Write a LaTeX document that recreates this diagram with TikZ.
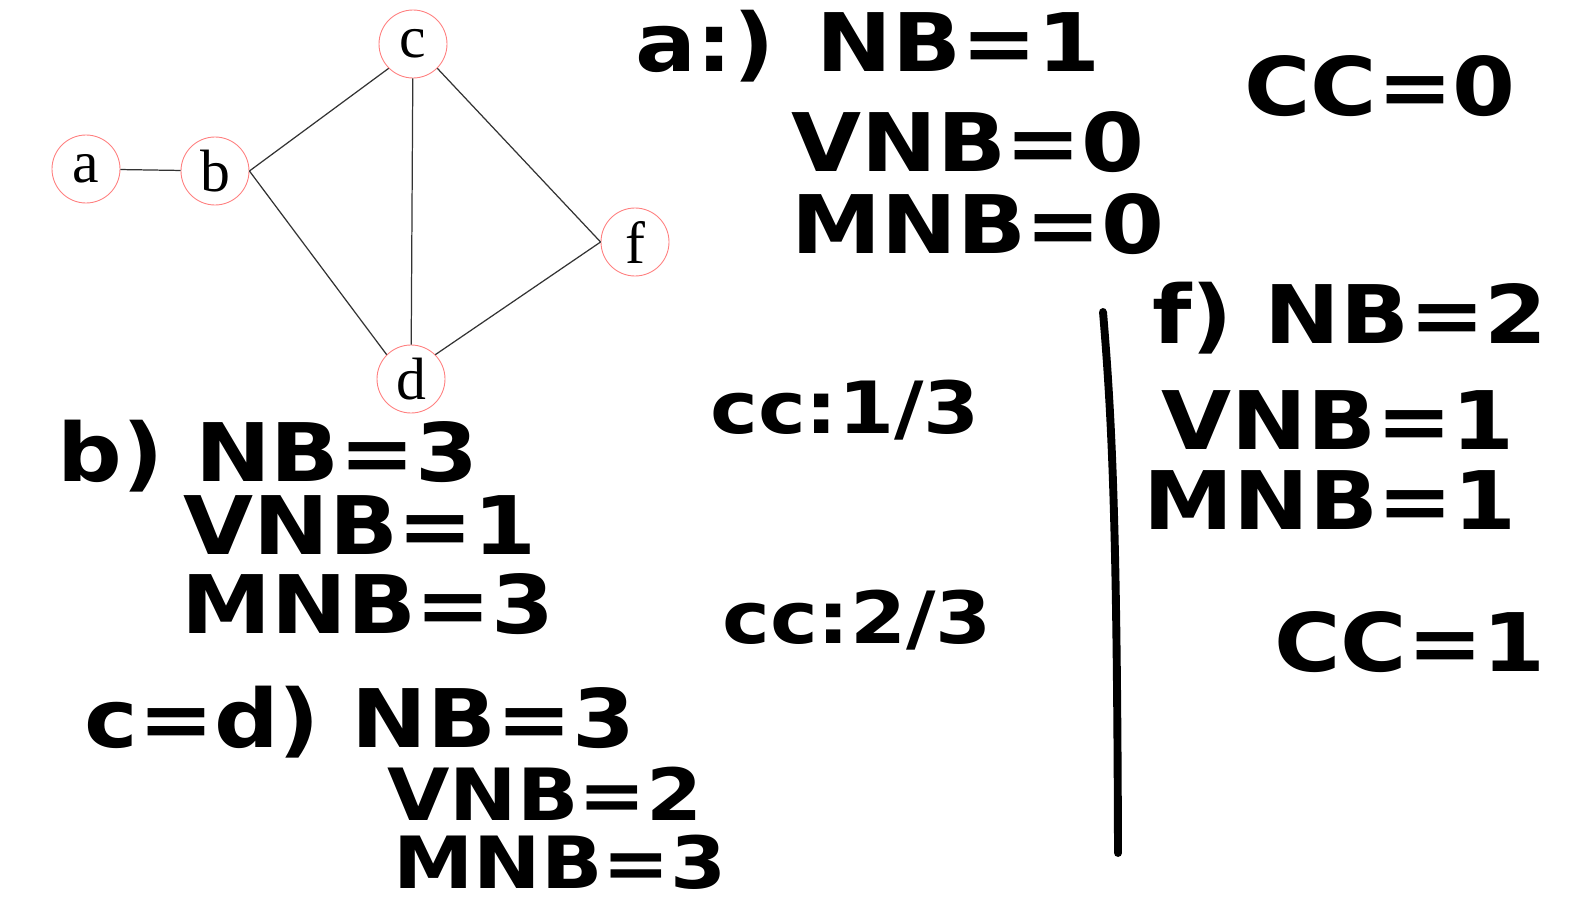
\documentclass[tikz,border=0pt]{standalone}
\usepackage{fontspec}
\setmainfont{Liberation Serif}
\newfontfamily\handfont{DejaVu Sans}
\usepackage{tikz}

\newcommand{\hw}[1]{\scalebox{1.12}[1]{#1}}

\tikzset{
  vertex/.style={circle, draw=red!50, line width=0.5pt, minimum size=1.36cm, inner sep=0pt,
    font=\fontsize{34}{34}\selectfont},
  edge/.style={draw=black!80, line width=0.7pt},
  hand/.style={font=\handfont\bfseries\fontsize{46}{46}\selectfont, inner sep=0pt},
  handsmall/.style={font=\handfont\bfseries\fontsize{41}{41}\selectfont, inner sep=0pt}
}

\begin{document}
\begin{tikzpicture}[x=0.02cm, y=-0.02cm]
        \useasboundingbox (0,0) rectangle (1581,912);
        % graph
        \node[vertex] (a) at (86, 169) {a};
        \node[vertex] (b) at (215, 171) {b};
        \node[vertex] (c) at (413, 44) {c};
        \node[vertex] (d) at (411, 379) {d};
        \node[vertex] (f) at (635, 242) {f};
        \draw[edge] (a) -- (b);
        \draw[edge] (b.east) -- (c.south west);
        \draw[edge] (b.east) -- (d.north west);
        \draw[edge] (c) -- (d);
        \draw[edge] (c.south east) -- (f.west);
        \draw[edge] (d.north east) -- (f.west);
        % a)
        \node[hand] (aNB) at (868, 46) {\hw{a:) NB=1}};
        \node[hand] (aVNB) at (968, 142) {\hw{VNB=0}};
        \node[hand] (aMNB) at (978, 224) {\hw{MNB=0}};
        \node[hand] (aCC) at (1380, 86) {\hw{CC=0}};
        % b)
        \node[hand] (bNB) at (268, 456) {\hw{b) NB=3}};
        \node[hand] (bVNB) at (360, 525) {\hw{VNB=1}};
        \node[hand] (bMNB) at (368, 604) {\hw{MNB=3}};
        \node[handsmall] (bCC) at (845, 410) {\hw{cc:1/3}};
        % c=d)
        \node[handsmall] (cdCC) at (857, 620) {\hw{cc:2/3}};
        \node[hand] (cdNB) at (360, 722) {\hw{c=d) NB=3}};
        \node[handsmall] (cdVNB) at (545, 794) {\hw{VNB=2}};
        \node[handsmall] (cdMNB) at (560, 862) {\hw{MNB=3}};
        % f)
        \coordinate (top) at (1103, 312);
        \coordinate (bot) at (1118, 853);
        \draw[line width=4.5pt, line cap=round] (top) .. controls (1112, 420) and (1117, 520) .. (bot);
        \node[hand] (fNB) at (1350, 318) {\hw{f) NB=2}};
        \node[hand] (fVNB) at (1338, 420) {\hw{VNB=1}};
        \node[hand] (fMNB) at (1330, 500) {\hw{MNB=1}};
        \node[hand] (fCC) at (1410, 642) {\hw{CC=1}};
    \end{tikzpicture}
\end{document}
